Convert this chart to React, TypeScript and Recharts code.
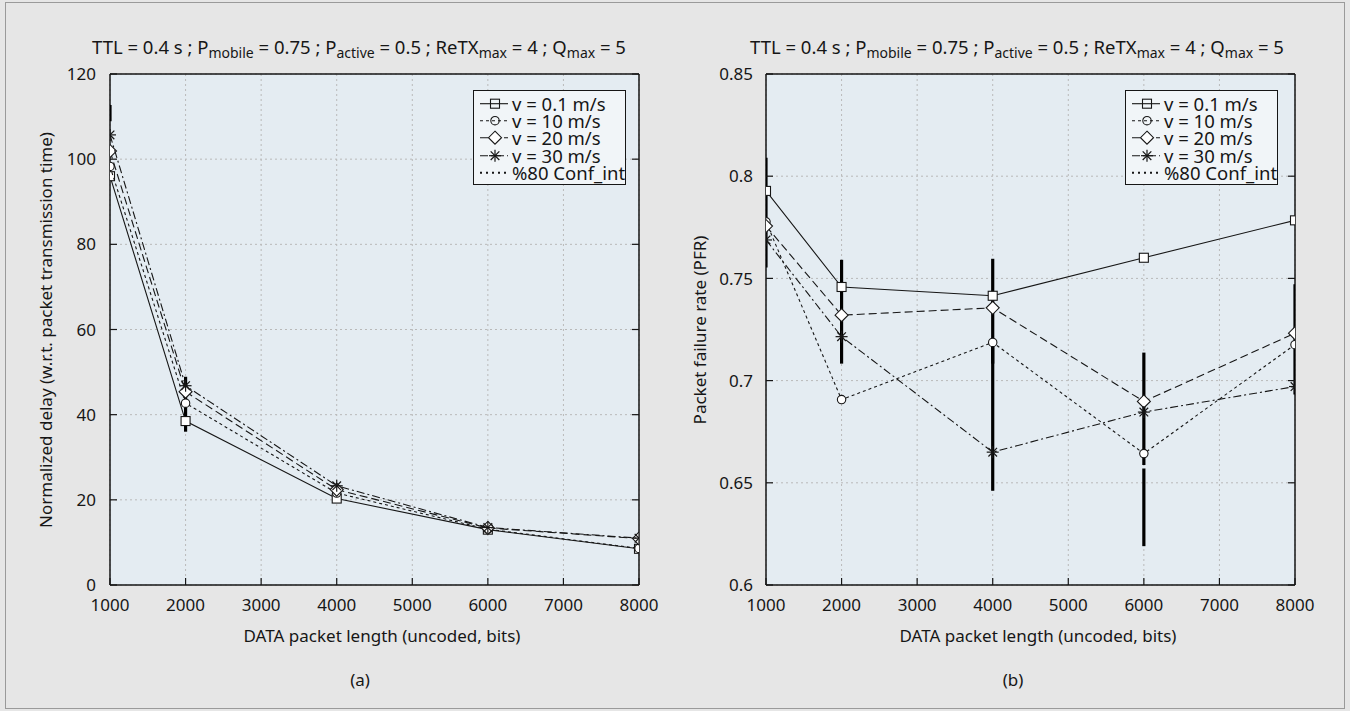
import React from 'react';
import { ScatterChart, Scatter, XAxis, YAxis, CartesianGrid, Legend } from 'recharts';

// ---------- data ----------
const packetLengths = [1000, 2000, 4000, 6000, 8000];
const xTicks = [1000, 2000, 3000, 4000, 5000, 6000, 7000, 8000];
const delayTicks = [0, 20, 40, 60, 80, 100, 120];
const pfrTicks = [0.6, 0.65, 0.7, 0.75, 0.8, 0.85];

const seriesNames = ['v = 0.1 m/s', 'v = 10 m/s', 'v = 20 m/s', 'v = 30 m/s'];
const ciName = '%80 Conf_int';

// (a) normalized delay
const delayV01 = [96.0, 38.5, 20.3, 13.0, 8.5];
const delayV10 = [98.3, 42.7, 21.6, 13.1, 8.6];
const delayV20 = [101.9, 45.4, 22.4, 13.4, 10.9];
const delayV30 = [105.7, 46.8, 23.3, 13.5, 11.0];
const delayCiX = [1000, 2000];
const delayCiLow = [108.9, 36.0];
const delayCiHigh = [112.7, 48.9];

// (b) packet failure rate
const pfrV01 = [0.7928, 0.7458, 0.7415, 0.7601, 0.7784];
const pfrV10 = [0.7777, 0.6907, 0.7187, 0.6643, 0.7176];
const pfrV20 = [0.7756, 0.732, 0.7356, 0.6898, 0.7232];
const pfrV30 = [0.7688, 0.7215, 0.665, 0.6846, 0.6971];
const pfrCiX = [1000, 2000, 4000, 4000, 6000, 6000, 8000];
const pfrCiLow = [0.7553, 0.7083, 0.7083, 0.6461, 0.6587, 0.619, 0.6932];
const pfrCiHigh = [0.809, 0.7591, 0.7596, 0.7187, 0.7137, 0.657, 0.7471];

// ---------- styles ----------
const FONT = '"Noto Sans", "Open Sans", sans-serif';
const INK = '#161616';
const PAGE_BG = '#e6e6e6';
const PLOT_BG = '#e4ecf2';
const LEGEND_BG = '#f1f5f8';
const FS = 17;
const LEGEND_FS = 18.5;
const TITLE_FS = 18.5;

type Kind = 'square' | 'circle' | 'diamond' | 'asterisk';
const seriesKinds: Kind[] = ['square', 'circle', 'diamond', 'asterisk'];
const seriesDash: (string | undefined)[] = [undefined, '3 3', '8 4', '8 3 2 3'];

function Marker({ kind, cx, cy, fill }: { kind: Kind; cx: number; cy: number; fill: string }) {
  const sw = 1.1;
  if (kind === 'square') {
    return <rect x={cx - 4.5} y={cy - 4.5} width={9} height={9} fill={fill} stroke={INK} strokeWidth={sw} />;
  }
  if (kind === 'circle') {
    return <circle cx={cx} cy={cy} r={4.2} fill={fill} stroke={INK} strokeWidth={sw} />;
  }
  if (kind === 'diamond') {
    const r = 6.5;
    return (
      <path
        d={`M${cx},${cy - r}L${cx + r},${cy}L${cx},${cy + r}L${cx - r},${cy}Z`}
        fill={fill === 'none' ? '#ffffff' : fill}
        stroke={INK}
        strokeWidth={sw}
      />
    );
  }
  const r = 6;
  const d = r * 0.72;
  return (
    <g stroke={INK} strokeWidth={1.2}>
      <line x1={cx} y1={cy - r} x2={cx} y2={cy + r} />
      <line x1={cx - r} y1={cy} x2={cx + r} y2={cy} />
      <line x1={cx - d} y1={cy - d} x2={cx + d} y2={cy + d} />
      <line x1={cx - d} y1={cy + d} x2={cx + d} y2={cy - d} />
    </g>
  );
}

function LegendBox() {
  const rowH = 17.4;
  return (
    <div
      style={{
        width: 153,
        height: 95,
        boxSizing: 'border-box',
        border: `1px solid ${INK}`,
        background: LEGEND_BG,
        fontFamily: FONT,
        fontSize: LEGEND_FS,
        color: INK,
        paddingTop: 3.5,
        overflow: 'hidden',
      }}
    >
      {seriesNames.map((name, i) => (
        <div key={name} style={{ display: 'flex', alignItems: 'center', height: rowH, whiteSpace: 'nowrap' }}>
          <svg width={38} height={rowH} style={{ flex: 'none' }}>
            <line x1={6} x2={34} y1={rowH / 2} y2={rowH / 2} stroke={INK} strokeWidth={1.1} strokeDasharray={seriesDash[i]} />
            <Marker kind={seriesKinds[i]} cx={21} cy={rowH / 2} fill="none" />
          </svg>
          <span style={{ lineHeight: `${rowH}px` }}>{name}</span>
        </div>
      ))}
      <div style={{ display: 'flex', alignItems: 'center', height: rowH, whiteSpace: 'nowrap' }}>
        <svg width={38} height={rowH} style={{ flex: 'none' }}>
          <line x1={6} x2={34} y1={rowH / 2} y2={rowH / 2} stroke={INK} strokeWidth={2} strokeDasharray="2 4" />
        </svg>
        <span style={{ lineHeight: `${rowH}px` }}>{ciName}</span>
      </div>
    </div>
  );
}

interface PanelProps {
  left: number;
  margin: { top: number; right: number; bottom: number; left: number };
  yDomain: [number, number];
  yTicks: number[];
  series: number[][];
  ciX: number[];
  ciLow: number[];
  ciHigh: number[];
  yLabelMargin: number;
  legendLeft: number;
}

const TICK_LEN = 7;
const X_LABEL_MARGIN = 20;

function Panel(p: PanelProps) {
  const pts = (ys: number[]) => packetLengths.map((x, i) => ({ x, y: ys[i] }));
  const ciSegs = p.ciX.map((x, i) => [
    { x, y: p.ciLow[i] },
    { x, y: p.ciHigh[i] },
  ]);
  const textStyle = { fontFamily: FONT, fontSize: FS, fill: INK } as React.CSSProperties;

  const bottomTick = (t: any) => {
    const axisY = t.y - X_LABEL_MARGIN;
    return (
      <g>
        <line x1={t.x} x2={t.x} y1={axisY} y2={axisY - TICK_LEN} stroke={INK} strokeWidth={1.2} />
        <text x={t.x} y={t.y} dy="0.36em" textAnchor="middle" style={textStyle}>
          {t.payload.value}
        </text>
      </g>
    );
  };
  const topTick = (t: any) => (
    <line x1={t.x} x2={t.x} y1={t.y} y2={t.y + TICK_LEN} stroke={INK} strokeWidth={1.2} />
  );
  const leftTick = (t: any) => {
    const axisX = t.x + p.yLabelMargin;
    return (
      <g>
        <line x1={axisX} x2={axisX + TICK_LEN} y1={t.y} y2={t.y} stroke={INK} strokeWidth={1.2} />
        <text x={t.x} y={t.y} dy="0.36em" textAnchor="end" style={textStyle}>
          {t.payload.value}
        </text>
      </g>
    );
  };
  const rightTick = (t: any) => (
    <line x1={t.x} x2={t.x - TICK_LEN} y1={t.y} y2={t.y} stroke={INK} strokeWidth={1.2} />
  );
  const axisLine = { stroke: INK, strokeWidth: 1.5 };

  return (
    <div style={{ position: 'absolute', left: p.left, top: 0 }}>
      <ScatterChart width={675} height={711} margin={p.margin}>
        <CartesianGrid fill={PLOT_BG} stroke="#b9b9b9" strokeDasharray="2 3" strokeWidth={1} />
        <XAxis
          dataKey="x"
          type="number"
          domain={[1000, 8000]}
          ticks={xTicks}
          interval={0}
          allowDataOverflow
          height={30}
          tickSize={0}
          tickMargin={X_LABEL_MARGIN}
          tickLine={false}
          axisLine={axisLine}
          tick={bottomTick}
        />
        <XAxis
          xAxisId="top"
          orientation="top"
          type="number"
          domain={[1000, 8000]}
          ticks={xTicks}
          interval={0}
          allowDataOverflow
          height={1}
          tickSize={0}
          tickMargin={0}
          tickLine={false}
          axisLine={axisLine}
          tick={topTick}
        />
        <YAxis
          dataKey="y"
          type="number"
          domain={p.yDomain}
          ticks={p.yTicks}
          interval={0}
          allowDataOverflow
          width={60}
          tickSize={0}
          tickMargin={p.yLabelMargin}
          tickLine={false}
          axisLine={axisLine}
          tick={leftTick}
        />
        <YAxis
          yAxisId="right"
          orientation="right"
          type="number"
          domain={p.yDomain}
          ticks={p.yTicks}
          interval={0}
          allowDataOverflow
          width={1}
          tickSize={0}
          tickMargin={0}
          tickLine={false}
          axisLine={axisLine}
          tick={rightTick}
        />
        {ciSegs.map((seg, i) => (
          <Scatter
            key={`ci-${i}`}
            name={ciName}
            data={seg}
            fill={INK}
            isAnimationActive={false}
            line={{ stroke: '#000', strokeWidth: 3.2 }}
            shape={() => <g />}
            legendType="none"
          />
        ))}
        {p.series.map((ys, i) => (
          <Scatter
            key={seriesNames[i]}
            name={seriesNames[i]}
            data={pts(ys)}
            fill={INK}
            isAnimationActive={false}
            line={{ stroke: INK, strokeWidth: 1.1, strokeDasharray: seriesDash[i] }}
            shape={(s: any) => <Marker kind={seriesKinds[i]} cx={s.cx} cy={s.cy} fill="#ffffff" />}
          />
        ))}
        <Legend
          layout="vertical"
          align="center"
          verticalAlign="middle"
          content={() => <LegendBox />}
          wrapperStyle={{ left: p.legendLeft, top: 90, width: 153, height: 95 }}
        />
      </ScatterChart>
    </div>
  );
}

function Title({ cx }: { cx: number }) {
  const sub: React.CSSProperties = { fontSize: 14, verticalAlign: '-4px', lineHeight: 0 };
  return (
    <div
      style={{
        position: 'absolute',
        left: cx - 350,
        width: 700,
        top: 37,
        textAlign: 'center',
        fontSize: TITLE_FS,
        lineHeight: '20px',
        whiteSpace: 'nowrap',
      }}
    >
      TTL = 0.4 s ; P<span style={sub}>mobile</span> = 0.75 ; P<span style={sub}>active</span> = 0.5 ; ReTX
      <span style={sub}>max</span> = 4 ; Q<span style={sub}>max</span> = 5
    </div>
  );
}

function HText({ cx, cy, children }: { cx: number; cy: number; children: React.ReactNode }) {
  return (
    <div
      style={{
        position: 'absolute',
        left: cx - 300,
        width: 600,
        top: cy - 11,
        textAlign: 'center',
        fontSize: FS,
        lineHeight: '20px',
        whiteSpace: 'nowrap',
      }}
    >
      {children}
    </div>
  );
}

function VText({ cx, cy, children }: { cx: number; cy: number; children: React.ReactNode }) {
  return (
    <div
      style={{
        position: 'absolute',
        left: cx - 300,
        width: 600,
        top: cy - 10,
        height: 20,
        textAlign: 'center',
        fontSize: FS,
        lineHeight: '20px',
        whiteSpace: 'nowrap',
        transform: 'rotate(-90deg)',
      }}
    >
      {children}
    </div>
  );
}

export default function App() {
  return (
    <div
      style={{
        position: 'fixed',
        left: 0,
        top: 0,
        width: 1350,
        height: 711,
        background: PAGE_BG,
        fontFamily: FONT,
        color: INK,
        overflow: 'hidden',
      }}
    >
      <div
        style={{
          position: 'absolute',
          left: 5,
          top: 2,
          width: 1340,
          height: 707,
          boxSizing: 'border-box',
          border: '1px solid #9a9a9a',
        }}
      />
      <Panel
        left={0}
        margin={{ top: 73, right: 35, bottom: 96, left: 50 }}
        yDomain={[0, 120]}
        yTicks={delayTicks}
        series={[delayV01, delayV10, delayV20, delayV30]}
        ciX={delayCiX}
        ciLow={delayCiLow}
        ciHigh={delayCiHigh}
        yLabelMargin={14}
        legendLeft={473}
      />
      <Panel
        left={675}
        margin={{ top: 73, right: 54, bottom: 96, left: 31 }}
        yDomain={[0.6, 0.85]}
        yTicks={pfrTicks}
        series={[pfrV01, pfrV10, pfrV20, pfrV30]}
        ciX={pfrCiX}
        ciLow={pfrCiLow}
        ciHigh={pfrCiHigh}
        yLabelMargin={13}
        legendLeft={450}
      />
      <Title cx={359} />
      <Title cx={1017} />
      <VText cx={46} cy={330}>Normalized delay (w.r.t. packet transmission time)</VText>
      <VText cx={700} cy={330}>Packet failure rate (PFR)</VText>
      <HText cx={382} cy={637}>DATA packet length (uncoded, bits)</HText>
      <HText cx={1038} cy={637}>DATA packet length (uncoded, bits)</HText>
      <HText cx={360} cy={681}>(a)</HText>
      <HText cx={1013} cy={681}>(b)</HText>
    </div>
  );
}
